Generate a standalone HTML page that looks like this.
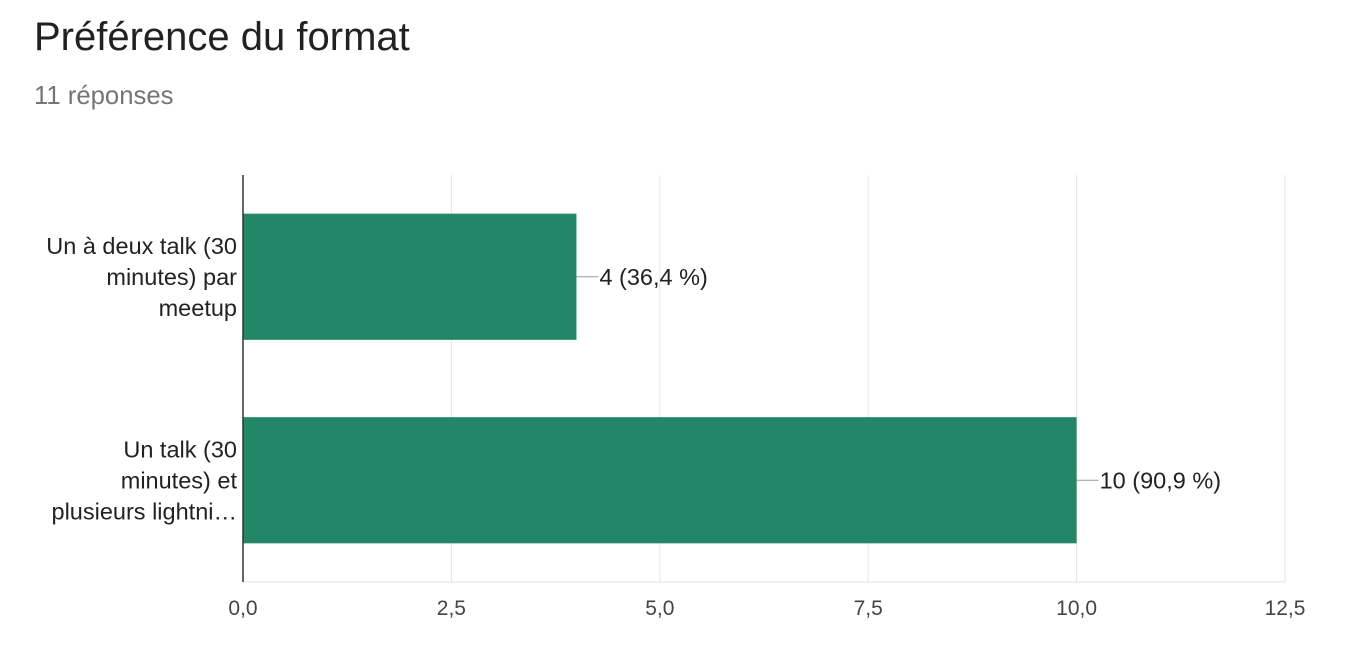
<!DOCTYPE html>
<html><head><meta charset="utf-8"><style>
body{margin:0;background:#fff;font-family:"Liberation Sans",Arial,sans-serif;}
#wrap{position:relative;width:1352px;height:650px;overflow:hidden;}
</style></head><body>
<div id="wrap">
<svg id="chart" width="1352" height="650">
<text x="34" y="50" font-size="40" fill="#212121">Préférence du format</text>
<text x="34" y="104" font-size="25.7" fill="#757575">11 réponses</text>
</svg>
</div>
<script>
const categories=[["Un à deux talk (30","minutes) par","meetup"],["Un talk (30","minutes) et","plusieurs lightni…"]];
const values=[4,10];
const valueLabels=["4 (36,4 %)","10 (90,9 %)"];
const ticks=[0,2.5,5,7.5,10,12.5];
const tickLabels=["0,0","2,5","5,0","7,5","10,0","12,5"];
const svg=document.getElementById('chart');
const NS="http://www.w3.org/2000/svg";
const x0=243,x1=1285,plotTop=175,plotBottom=582,xmax=12.5;
const xs=v=>x0+(x1-x0)*v/xmax;
const band=(plotBottom-plotTop)/categories.length;
function mk(t,a){const e=document.createElementNS(NS,t);for(const k in a)e.setAttribute(k,a[k]);svg.appendChild(e);return e;}
ticks.forEach((t,i)=>{
  if(i>0){const g=mk('line',{x1:xs(t),x2:xs(t),y1:plotTop,y2:plotBottom,stroke:'#e6e6e6','stroke-width':1});
  
  }
  const l=mk('text',{x:xs(t),y:615,'font-size':21,fill:'#444','text-anchor':'middle'});
  l.textContent=tickLabels[i];
  
  
});
const bl=mk('line',{x1:x0,x2:x1,y1:plotBottom,y2:plotBottom,stroke:'#e0e0e0','stroke-width':1});


values.forEach((v,i)=>{
  const y=plotTop+band*i+band*0.19,h=band*0.62;
  const r=mk('rect',{x:x0,y:y,width:xs(v)-x0,height:h,fill:'#238667'});
  
  
  const cy=y+h/2;
  const ln=mk('line',{x1:xs(v),x2:xs(v)+22,y1:cy,y2:cy,stroke:'#999','stroke-width':1});
  
  
  const t=mk('text',{x:xs(v)+23,y:cy+8,'font-size':23.5,fill:'#222'});
  t.textContent=valueLabels[i];
  
  
  categories[i].forEach((s,j)=>{
    const c=mk('text',{x:237,y:cy-31+j*31+8,'font-size':23.5,fill:'#222','text-anchor':'end'});
    c.textContent=s;
    
    
  });
});
const ax=mk('line',{x1:x0,x2:x0,y1:plotTop,y2:plotBottom,stroke:'#333','stroke-width':1.5});


</script>
</body></html>
